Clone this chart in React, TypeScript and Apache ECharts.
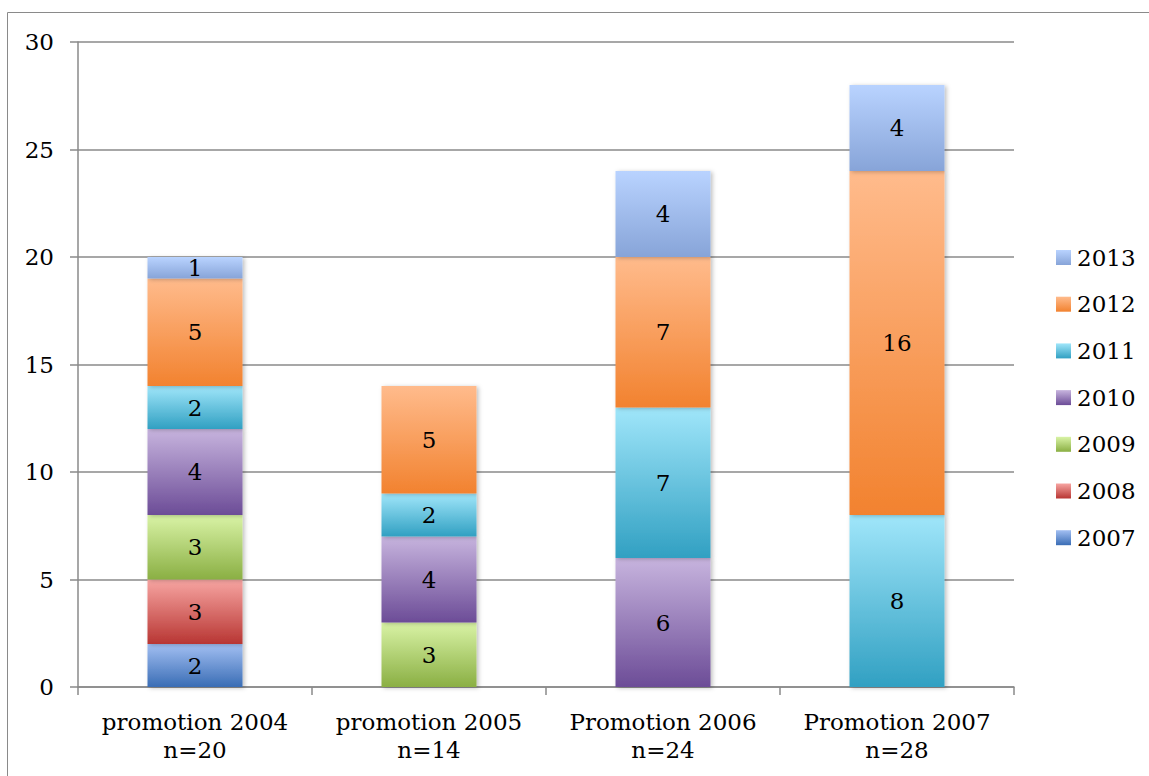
import React, { useEffect, useRef } from "react";
import * as echarts from "echarts";

// Categories (cohorts) and the number of students finishing each year
const categories = [
  "promotion 2004\nn=20",
  "promotion 2005\nn=14",
  "Promotion 2006\nn=24",
  "Promotion 2007\nn=28",
];

const years = ["2007", "2008", "2009", "2010", "2011", "2012", "2013"];

const v2007 = [2, null, null, null];
const v2008 = [3, null, null, null];
const v2009 = [3, 3, null, null];
const v2010 = [4, 4, 6, null];
const v2011 = [2, 2, 7, 8];
const v2012 = [5, 5, 7, 16];
const v2013 = [1, null, 4, 4];

const seriesValues = [v2007, v2008, v2009, v2010, v2011, v2012, v2013];

// Top / bottom colours of each vertical gradient fill
const gradients: [string, string][] = [
  ["#a2bff2", "#3a6db5"],
  ["#f7a5a2", "#b83633"],
  ["#d9f3a6", "#8aaf43"],
  ["#c7b4de", "#6c4c97"],
  ["#a0e6fa", "#31a0c2"],
  ["#ffbb8c", "#f2822f"],
  ["#b9d3ff", "#87a4d8"],
];

const FONT = "DejaVu Serif";
const FS = 23;

export default function App() {
  const ref = useRef<HTMLDivElement>(null);

  useEffect(() => {
    if (!ref.current) return;
    const chart = echarts.init(ref.current, undefined, { renderer: "svg" });

    const series = years.map((y, i) => ({
      name: y,
      type: "bar",
      stack: "total",
      barWidth: "40.6%",
      data: seriesValues[i],
      itemStyle: {
        color: new echarts.graphic.LinearGradient(0, 0, 0, 1, [
          { offset: 0, color: gradients[i][0] },
          { offset: 1, color: gradients[i][1] },
        ]),
        shadowColor: "rgba(0,0,0,0.25)",
        shadowBlur: 4,
        shadowOffsetX: 2,
        shadowOffsetY: 1,
      },
      label: {
        show: true,
        position: "inside",
        color: "#000",
        fontFamily: FONT,
        fontSize: FS,
      },
    }));

    chart.setOption({
      animation: false,
      backgroundColor: "#fff",
      textStyle: { fontFamily: FONT },
      graphic: [
        {
          type: "rect",
          shape: { x: 7.5, y: 12.5, width: 1300, height: 900 },
          style: { fill: "none", stroke: "#8a8a8a", lineWidth: 1 },
          silent: true,
        },
      ],
      grid: { left: 78, right: 135, top: 42, bottom: 89 },
      legend: {
        orient: "vertical",
        left: 1051,
        top: 241,
        itemWidth: 15,
        itemHeight: 15,
        itemGap: 23.7,
        icon: "rect",
        data: [...years].reverse(),
        textStyle: { fontFamily: FONT, fontSize: FS, color: "#000", padding: [0, 0, 0, 1] },
      },
      xAxis: {
        type: "category",
        data: categories,
        axisLine: { show: true, lineStyle: { color: "#8a8a8a", width: 1.5 } },
        axisTick: { show: true, length: 8, lineStyle: { color: "#8a8a8a", width: 1.5 } },
        axisLabel: {
          interval: 0,
          fontFamily: FONT,
          fontSize: FS,
          color: "#000",
          margin: 21,
          lineHeight: 28,
        },
      },
      yAxis: {
        type: "value",
        min: 0,
        max: 30,
        interval: 5,
        axisLine: { show: true, lineStyle: { color: "#8a8a8a", width: 1.5 } },
        axisTick: { show: true, length: 8, lineStyle: { color: "#8a8a8a", width: 1.5 } },
        splitLine: { show: true, lineStyle: { color: "#8a8a8a", width: 1.5 } },
        axisLabel: {
          fontFamily: FONT,
          fontSize: FS,
          color: "#000",
          margin: 24,
        },
      },
      series,
    });

    return () => chart.dispose();
  }, []);

  return (
    <div
      ref={ref}
      style={{ position: "fixed", left: 0, top: 0, width: 1149, height: 776 }}
    />
  );
}
